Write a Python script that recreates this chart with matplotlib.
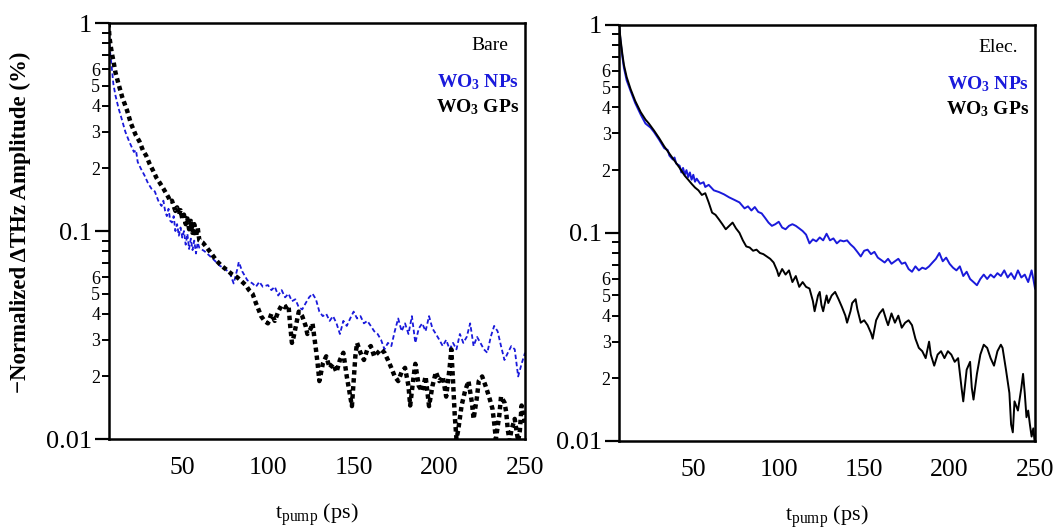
import numpy as np
import matplotlib
matplotlib.use("Agg")
import matplotlib.pyplot as plt
from matplotlib.ticker import FixedLocator, FixedFormatter, NullFormatter

plt.rcParams['font.family'] = ['Liberation Serif', 'DejaVu Serif']
plt.rcParams['mathtext.fontset'] = 'custom'
plt.rcParams['mathtext.rm'] = 'Liberation Serif'
plt.rcParams['mathtext.it'] = 'Liberation Serif:italic'
plt.rcParams['mathtext.bf'] = 'Liberation Serif:bold'

# ---- Bare: WO3 NPs (blue) ----
bare_np_t = [7, 7.8, 8.8, 9.8, 11, 12.8, 14.5, 16.8, 19, 21.8, 23, 24, 25.8, 28, 30, 32, 34, 36,
             37.9, 39, 40, 41, 42, 43, 44, 45, 46, 47, 48, 49, 50, 51, 52, 53, 54, 55, 56, 57,
             58, 59, 60, 63, 66, 69, 72, 75, 78, 80, 82, 83, 85, 88, 91, 93, 95, 97, 100, 102,
             104, 106, 108, 110, 112, 114, 116, 118, 120, 122, 124, 126, 128, 130, 132, 134,
             136, 138, 140, 142, 144, 146, 148, 150, 152, 154, 156, 158, 160, 162, 164, 166,
             168, 170, 172, 174, 176, 178, 180, 182, 184, 186, 188, 190, 192, 194, 196, 198,
             200, 202, 204, 206, 208, 210, 212, 214, 216, 218, 220, 222, 224, 226, 228, 230,
             232, 234, 236, 238, 240, 242, 244, 246, 248, 250]
bare_np_a = [1.0, 0.74, 0.62, 0.51, 0.45, 0.39, 0.35, 0.30, 0.27, 0.24, 0.245, 0.215, 0.20,
             0.185, 0.17, 0.16, 0.155, 0.14, 0.132, 0.14, 0.125, 0.118, 0.128, 0.112, 0.110,
             0.118, 0.10, 0.108, 0.095, 0.104, 0.093, 0.10, 0.086, 0.097, 0.082, 0.092, 0.081,
             0.090, 0.078, 0.088, 0.083, 0.080, 0.076, 0.072, 0.068, 0.066, 0.062, 0.056, 0.065,
             0.071, 0.064, 0.058, 0.056, 0.054, 0.057, 0.054, 0.055, 0.052, 0.054, 0.049, 0.052,
             0.048, 0.050, 0.046, 0.047, 0.043, 0.042, 0.045, 0.048, 0.050, 0.047, 0.041, 0.039,
             0.040, 0.037, 0.039, 0.036, 0.032, 0.037, 0.035, 0.038, 0.041, 0.038, 0.039, 0.036,
             0.037, 0.035, 0.033, 0.032, 0.030, 0.027, 0.029, 0.028, 0.033, 0.038, 0.033, 0.036,
             0.032, 0.039, 0.029, 0.034, 0.036, 0.033, 0.039, 0.034, 0.032, 0.030, 0.028, 0.030,
             0.027, 0.029, 0.027, 0.032, 0.029, 0.031, 0.036, 0.028, 0.031, 0.029, 0.027, 0.026,
             0.031, 0.035, 0.033, 0.028, 0.024, 0.026, 0.028, 0.027, 0.020, 0.023, 0.026]

# ---- Bare: WO3 GPs (black) ----
bare_gp_t = [7, 7.5, 8.2, 9, 9.8, 11, 12.8, 15, 17.8, 20, 22.8, 25, 27, 29, 31, 33, 35, 37, 39,
             41, 42, 43, 44, 45, 46, 47, 48, 49, 50, 51, 52, 53, 54, 55, 56, 57, 58, 59, 60, 62,
             64, 67, 70, 73, 76, 79, 82, 84, 87, 89, 91, 93, 95, 96, 98, 100, 102, 104, 106, 108,
             110, 112, 113, 114, 115, 116, 118, 120, 122, 123, 125, 126, 128, 129, 130, 132, 134,
             136, 138, 140, 142, 144, 146, 148, 149, 150, 151, 152, 154, 156, 158, 160, 162, 164,
             166, 168, 170, 172, 174, 176, 178, 180, 182, 183, 185, 186, 188, 190, 192, 194, 196,
             198, 200, 202, 204, 206, 207, 208, 209, 210, 211, 213, 215, 217, 219, 220, 222, 223,
             225, 227, 229, 231, 232, 233, 235, 236, 238, 239, 240, 241, 242, 244, 245, 246, 247,
             248, 249, 250]
bare_gp_a = [1.0, 0.86, 0.78, 0.71, 0.66, 0.58, 0.51, 0.44, 0.38, 0.33, 0.29, 0.27, 0.245, 0.23,
             0.21, 0.195, 0.18, 0.17, 0.16, 0.15, 0.145, 0.138, 0.14, 0.132, 0.125, 0.13, 0.12,
             0.126, 0.115, 0.12, 0.108, 0.115, 0.102, 0.112, 0.098, 0.108, 0.094, 0.104, 0.090,
             0.088, 0.084, 0.078, 0.072, 0.068, 0.065, 0.062, 0.060, 0.058, 0.055, 0.052, 0.050,
             0.045, 0.041, 0.039, 0.037, 0.036, 0.040, 0.037, 0.041, 0.044, 0.043, 0.044, 0.035,
             0.029, 0.031, 0.034, 0.041, 0.039, 0.035, 0.032, 0.034, 0.036, 0.027, 0.023, 0.019,
             0.023, 0.025, 0.022, 0.023, 0.021, 0.024, 0.026, 0.020, 0.016, 0.0144, 0.019, 0.025,
             0.029, 0.026, 0.024, 0.027, 0.028, 0.025, 0.026, 0.027, 0.026, 0.024, 0.022, 0.020,
             0.019, 0.021, 0.022, 0.018, 0.0145, 0.020, 0.023, 0.018, 0.017, 0.020, 0.0144, 0.018,
             0.021, 0.019, 0.020, 0.016, 0.022, 0.027, 0.019, 0.013, 0.010, 0.011, 0.0145, 0.017,
             0.019, 0.015, 0.0125, 0.016, 0.019, 0.020, 0.018, 0.016, 0.014, 0.012, 0.010, 0.013,
             0.016, 0.015, 0.0135, 0.011, 0.0098, 0.011, 0.0125, 0.011, 0.0098, 0.011, 0.0145,
             0.013, 0.012]

# ---- Elec.: WO3 NPs (blue) ----
elec_np_t = [6.5, 7.5, 8.5, 9.4, 11, 13.3, 16, 19.2, 22, 25, 27, 30, 33, 35, 36, 38, 39, 40, 42,
             43, 44, 45, 46, 47, 48, 49, 50, 51, 52, 54, 56, 57, 59, 62, 65, 68, 71, 74, 77, 80,
             82, 84, 86, 88, 90, 92, 94, 96, 98, 100, 102, 104, 106, 108, 110, 112, 114, 116,
             118, 120, 122, 124, 126, 128, 130, 132, 134, 136, 138, 140, 142, 144, 146, 148, 150,
             152, 154, 156, 158, 160, 162, 164, 166, 168, 170, 172, 174, 176, 178, 180, 182, 184,
             186, 188, 190, 192, 194, 196, 198, 200, 202, 204, 206, 208, 210, 212, 214, 216, 218,
             220, 222, 224, 226, 228, 230, 232, 234, 236, 238, 240, 242, 244, 246, 248, 249, 250]
elec_np_a = [1.0, 0.82, 0.70, 0.62, 0.54, 0.48, 0.42, 0.37, 0.335, 0.32, 0.305, 0.28, 0.255,
             0.25, 0.235, 0.225, 0.23, 0.215, 0.21, 0.195, 0.205, 0.19, 0.2, 0.185, 0.195, 0.18,
             0.19, 0.176, 0.182, 0.172, 0.175, 0.166, 0.17, 0.16, 0.157, 0.153, 0.148, 0.144,
             0.14, 0.131, 0.134, 0.128, 0.133, 0.126, 0.124, 0.118, 0.112, 0.108, 0.11, 0.113,
             0.106, 0.104, 0.108, 0.11, 0.108, 0.105, 0.102, 0.098, 0.089, 0.093, 0.091, 0.095,
             0.092, 0.099, 0.092, 0.094, 0.089, 0.092, 0.091, 0.092, 0.088, 0.085, 0.081, 0.077,
             0.082, 0.083, 0.079, 0.081, 0.076, 0.074, 0.072, 0.075, 0.071, 0.073, 0.075, 0.071,
             0.072, 0.067, 0.065, 0.069, 0.066, 0.068, 0.067, 0.069, 0.072, 0.075, 0.080, 0.073,
             0.076, 0.071, 0.068, 0.066, 0.069, 0.062, 0.065, 0.06, 0.058, 0.056, 0.06, 0.063,
             0.06, 0.063, 0.061, 0.064, 0.062, 0.066, 0.061, 0.064, 0.06, 0.066, 0.061, 0.063,
             0.058, 0.066, 0.06, 0.054]

# ---- Elec.: WO3 GPs (black) ----
elec_gp_t = [6.5, 7.5, 8.5, 9.4, 11, 13.3, 16, 19.2, 22, 24, 27, 30, 33, 36, 39, 42, 45, 47, 49,
             51, 53, 55, 57, 59, 61, 63, 65, 67, 69, 71, 73, 75, 77, 79, 81, 83, 85, 87, 89, 91,
             93, 95, 97, 99, 100, 102, 104, 106, 108, 110, 112, 114, 116, 118, 120, 121, 123,
             124, 125, 126, 128, 129, 131, 133, 135, 137, 139, 140, 142, 143, 145, 146, 148, 150,
             152, 154, 155, 157, 159, 161, 163, 164, 166, 168, 170, 172, 174, 176, 178, 180, 182,
             184, 186, 188, 189, 191, 193, 195, 197, 199, 201, 203, 205, 207, 208, 210, 212, 213,
             214, 216, 218, 220, 222, 224, 226, 228, 230, 231, 233, 235, 236, 237, 238, 240, 242,
             243, 244, 245, 246, 247, 248, 249, 250]
elec_gp_a = [1.0, 0.84, 0.72, 0.64, 0.56, 0.49, 0.43, 0.38, 0.35, 0.335, 0.31, 0.285, 0.26,
             0.24, 0.222, 0.205, 0.188, 0.18, 0.172, 0.165, 0.16, 0.152, 0.155, 0.14, 0.125,
             0.122, 0.116, 0.11, 0.104, 0.108, 0.112, 0.105, 0.10, 0.092, 0.086, 0.085, 0.082,
             0.083, 0.08, 0.079, 0.077, 0.075, 0.072, 0.066, 0.062, 0.067, 0.063, 0.066, 0.058,
             0.062, 0.055, 0.058, 0.055, 0.054, 0.047, 0.042, 0.05, 0.052, 0.045, 0.042, 0.05,
             0.046, 0.05, 0.052, 0.048, 0.044, 0.04, 0.037, 0.042, 0.046, 0.048, 0.043, 0.037,
             0.038, 0.036, 0.033, 0.031, 0.038, 0.041, 0.043, 0.038, 0.036, 0.041, 0.037, 0.04,
             0.035, 0.037, 0.038, 0.036, 0.031, 0.028, 0.027, 0.025, 0.03, 0.026, 0.023, 0.026,
             0.027, 0.025, 0.027, 0.026, 0.024, 0.025, 0.018, 0.0155, 0.022, 0.024, 0.018,
             0.0158, 0.021, 0.026, 0.029, 0.028, 0.025, 0.023, 0.027, 0.029, 0.028, 0.022, 0.017,
             0.012, 0.011, 0.0155, 0.014, 0.018, 0.021, 0.017, 0.013, 0.014, 0.012, 0.0105,
             0.0115, 0.0095]

minor_vals = [m * d for d in (0.01, 0.1) for m in range(2, 10)]
minor_labels = [str(m) if m <= 6 else '' for d in (0.01, 0.1) for m in range(2, 10)]

fig = plt.figure(figsize=(10.57, 5.29), dpi=100)
ax1 = fig.add_axes([0.1027, 0.170, 0.394, 0.7864])
ax2 = fig.add_axes([0.5856, 0.1664, 0.3936, 0.787])

ax1.plot(bare_np_t, bare_np_a, color='#1a1adb', lw=1.3, ls=(0, (2.5, 1.5)))
ax1.plot(bare_gp_t, bare_gp_a, color='black', lw=3.2, ls=(0, (1, 0.8)))
ax2.plot(elec_np_t, elec_np_a, color='#1a1adb', lw=1.4)
ax2.plot(elec_gp_t, elec_gp_a, color='black', lw=1.4)

for ax, xmin, tag in [(ax1, 7, 'Bare'), (ax2, 6.5, 'Elec.')]:
    ax.set_yscale('log')
    ax.set_ylim(0.01, 1)
    ax.set_xlim(xmin, 250)
    ax.set_xticks([50, 100, 150, 200, 250])
    ax.yaxis.set_major_locator(FixedLocator([0.01, 0.1, 1]))
    ax.yaxis.set_major_formatter(FixedFormatter(['0.01', '0.1', '1']))
    ax.yaxis.set_minor_locator(FixedLocator(minor_vals))
    ax.yaxis.set_minor_formatter(FixedFormatter(minor_labels))
    ax.tick_params(axis='x', length=0, pad=13, labelsize=18.5)
    ax.tick_params(axis='y', which='major', direction='out', length=10, width=1.6,
                   labelsize=19, pad=2)
    ax.tick_params(axis='y', which='minor', direction='out', length=5, width=1.4,
                   labelsize=13, pad=1)
    for s in ax.spines.values():
        s.set_linewidth(1.8)
    ax.set_xlabel(r't$_{\mathrm{pump}}$ (ps)', fontsize=16)
    ax.xaxis.set_label_coords(0.5, -0.15)
    ax.text(0.96, 0.945, tag, transform=ax.transAxes, ha='right', va='center', fontsize=14)
    ax.text(0.985, 0.858, r'WO$_{\mathbf{3}}$ NPs', transform=ax.transAxes, ha='right',
            va='center', fontsize=14, fontweight='bold', color='#1a1adb')
    ax.text(0.985, 0.797, r'WO$_{\mathbf{3}}$ GPs', transform=ax.transAxes, ha='right',
            va='center', fontsize=14, fontweight='bold', color='black')

ax1.set_ylabel('\u2212Normalized \u0394THz Amplitude (%)', fontsize=16.5, fontweight='bold')
ax1.yaxis.set_label_coords(-0.186, 0.52)

fig.savefig('out.png', dpi=100)
